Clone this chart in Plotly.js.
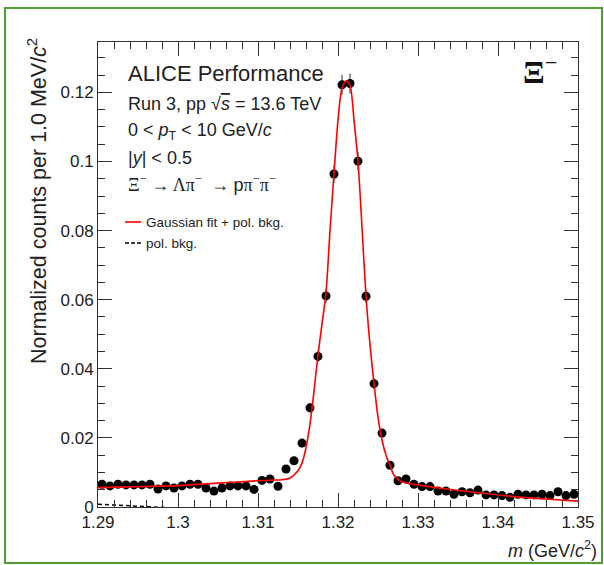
<!DOCTYPE html>
<html>
<head>
<meta charset="utf-8">
<script src="https://cdn.plot.ly/plotly-3.0.1.min.js"></script>
<style>
  html, body { margin: 0; padding: 0; background: #ffffff; }
  #chart { width: 604px; height: 565px; }
</style>
</head>
<body>
<div id="chart"></div>
<script>
// ---- data ----
const massBins = [
  1.2905, 1.2915, 1.2925, 1.2935, 1.2945, 1.2955, 1.2965, 1.2975, 1.2985, 1.2995,
  1.3005, 1.3015, 1.3025, 1.3035, 1.3045, 1.3055, 1.3065, 1.3075, 1.3085, 1.3095,
  1.3105, 1.3115, 1.3125, 1.3135, 1.3145, 1.3155, 1.3165, 1.3175, 1.3185, 1.3195,
  1.3205, 1.3215, 1.3225, 1.3235, 1.3245, 1.3255, 1.3265, 1.3275, 1.3285, 1.3295,
  1.3305, 1.3315, 1.3325, 1.3335, 1.3345, 1.3355, 1.3365, 1.3375, 1.3385, 1.3395,
  1.3405, 1.3415, 1.3425, 1.3435, 1.3445, 1.3455, 1.3465, 1.3475, 1.3485, 1.3495
];
const counts = [
  0.0066, 0.0061, 0.0066, 0.0064, 0.0064, 0.0064, 0.0066, 0.0052, 0.0061, 0.0055,
  0.0061, 0.0066, 0.0066, 0.0055, 0.0046, 0.0055, 0.0061, 0.0061, 0.0061, 0.0051,
  0.0077, 0.0081, 0.0060, 0.0110, 0.0134, 0.0185, 0.0287, 0.0436, 0.0611, 0.0964,
  0.1222, 0.1226, 0.1001, 0.0610, 0.0357, 0.0214, 0.0121, 0.0076, 0.0081, 0.0066,
  0.0059, 0.0059, 0.0046, 0.0046, 0.0037, 0.0044, 0.0041, 0.0049, 0.0035, 0.0035,
  0.0033, 0.0028, 0.0037, 0.0035, 0.0035, 0.0037, 0.0033, 0.0044, 0.0033, 0.0037
];
const countErr = [
  0.0007, 0.0007, 0.0007, 0.0007, 0.0007, 0.0007, 0.0007, 0.0007, 0.0007, 0.0007,
  0.0007, 0.0007, 0.0007, 0.0007, 0.0007, 0.0007, 0.0007, 0.0007, 0.0007, 0.0007,
  0.0008, 0.0008, 0.0007, 0.0009, 0.0010, 0.0012, 0.0014, 0.0017, 0.0020, 0.0026,
  0.0029, 0.0029, 0.0026, 0.0020, 0.0016, 0.0012, 0.0009, 0.0008, 0.0008, 0.0007,
  0.0007, 0.0007, 0.0006, 0.0006, 0.0006, 0.0006, 0.0006, 0.0006, 0.0006, 0.0006,
  0.0006, 0.0005, 0.0006, 0.0006, 0.0006, 0.0006, 0.0006, 0.0006, 0.0006, 0.0006
];
// fit curve (Gaussian fit + pol. bkg.)
const fitMass = [
  1.290, 1.295, 1.300, 1.305, 1.310, 1.312, 1.313, 1.314, 1.315, 1.3155,
  1.316, 1.3165, 1.317, 1.3175, 1.318, 1.3185, 1.319, 1.3195, 1.320, 1.3205,
  1.321, 1.3215, 1.322, 1.3225, 1.323, 1.3235, 1.324, 1.3245, 1.325, 1.3255,
  1.326, 1.3265, 1.327, 1.328, 1.330, 1.3335, 1.338, 1.342, 1.346, 1.350
];
const fitValues = [
  0.0056, 0.0059, 0.0062, 0.0069, 0.0076, 0.0078, 0.0079, 0.0084, 0.0105, 0.0127,
  0.0172, 0.0240, 0.0335, 0.0440, 0.0530, 0.0620, 0.0800, 0.0965, 0.1120, 0.1212,
  0.1234, 0.1220, 0.1120, 0.1000, 0.0810, 0.0610, 0.0470, 0.0357, 0.0260, 0.0194,
  0.0150, 0.0121, 0.0092, 0.0073, 0.0064, 0.0052, 0.0040, 0.0030, 0.0023, 0.0017
];
// polynomial background (only visible near the lower-left corner)
const bkgMass = [1.290, 1.2976, 1.305];
const bkgValues = [0.0008, 0.0000, -0.0009];

const xTickVals = [1.29, 1.30, 1.31, 1.32, 1.33, 1.34, 1.35];
const xTickText = ['1.29', '1.3', '1.31', '1.32', '1.33', '1.34', '1.35'];
const yTickVals = [0, 0.02, 0.04, 0.06, 0.08, 0.10, 0.12];
const yTickText = ['0', '0.02', '0.04', '0.06', '0.08', '0.1', '0.12'];

const FONT = 'Liberation Sans, Arial, Helvetica, sans-serif';
const SERIF = 'Liberation Serif, DejaVu Serif, Times New Roman, serif';
const TXT = '#222222';

const traces = [
  {
    x: massBins, y: counts, type: 'scatter', mode: 'markers',
    marker: { color: '#000000', size: 9 },
    error_y: { type: 'data', array: countErr, visible: true, color: '#333333', thickness: 1, width: 0 },
    showlegend: false, hoverinfo: 'x+y'
  },
  {
    x: bkgMass, y: bkgValues, type: 'scatter', mode: 'lines',
    line: { color: '#000000', width: 1.5, dash: '4px,3px' },
    showlegend: false
  },
  {
    x: fitMass, y: fitValues, type: 'scatter', mode: 'lines',
    line: { color: '#ff0000', width: 1.6, shape: 'spline', smoothing: 0.8 },
    showlegend: false
  }
];

// helpers to express pixel positions in paper coordinates of the plot area
const L = 98, T = 42, W = 480, H = 465;
const px = v => (v - L) / W;
const py = v => (T + H - v) / H;

const serif = s => '<span style="font-family:' + SERIF + '">' + s + '</span>';

const annotations = [
  { text: 'ALICE Performance', x: px(126), y: py(73), size: 22 },
  { text: 'Run 3, pp √<span style="text-decoration:overline"><i>s</i></span> = 13.6 TeV', x: px(126), y: py(104), size: 18 },
  { text: '0 &lt; <i>p</i><sub>T</sub> &lt; 10 GeV/<i>c</i>', x: px(126), y: py(131), size: 18 },
  { text: '|<i>y</i>| &lt; 0.5', x: px(126), y: py(158), size: 18 },
  { text: serif('Ξ<sup>−</sup> → Λπ<sup>−</sup>  → ') + 'p' + serif('π<sup>−</sup>π<sup>−</sup>'), x: px(126), y: py(183), size: 18 },
  { text: 'Gaussian fit + pol. bkg.', x: px(144), y: py(222), size: 13.5 },
  { text: 'pol. bkg.', x: px(144), y: py(243), size: 13.5 }
].map(a => ({
  text: a.text, x: a.x, y: a.y, xref: 'paper', yref: 'paper',
  xanchor: 'left', yanchor: 'middle', showarrow: false,
  font: { family: FONT, size: a.size, color: TXT }
}));

annotations.push({
  text: '<b>Ξ</b><sup>−</sup>', x: px(540), y: py(70), xref: 'paper', yref: 'paper',
  xanchor: 'center', yanchor: 'middle', showarrow: false,
  font: { family: SERIF, size: 32, color: '#111111' }
});
annotations.push({
  text: '<i>m</i> (GeV/<i>c</i><sup>2</sup>)', x: px(599), y: py(549), xref: 'paper', yref: 'paper',
  xanchor: 'right', yanchor: 'middle', showarrow: false,
  font: { family: FONT, size: 18, color: TXT }
});
annotations.push({
  text: 'Normalized counts per 1.0 MeV/<i>c</i><sup>2</sup>', x: px(37), y: py(36), xref: 'paper', yref: 'paper',
  xanchor: 'center', yanchor: 'top', showarrow: false, textangle: -90,
  font: { family: FONT, size: 21.5, color: TXT }
});

const shapes = [
  // legend samples
  { type: 'line', xref: 'paper', yref: 'paper', x0: px(125), x1: px(141), y0: py(222), y1: py(222),
    line: { color: '#ff0000', width: 1.6 } },
  { type: 'line', xref: 'paper', yref: 'paper', x0: px(125), x1: px(141), y0: py(243), y1: py(243),
    line: { color: '#000000', width: 1.5, dash: '4px,2px' } },
  // green frame around the figure
  { type: 'rect', xref: 'paper', yref: 'paper', x0: px(5), x1: px(602), y0: py(8), y1: py(563),
    line: { color: '#4f9e36', width: 2 }, layer: 'below' }
];

const axisCommon = {
  showline: true, linecolor: '#333333', linewidth: 1, mirror: 'ticks',
  ticks: 'inside', ticklen: 14, tickcolor: '#333333', tickwidth: 1,
  showgrid: false, zeroline: false,
  tickfont: { family: FONT, size: 17, color: TXT }
};

const layout = {
  width: 604, height: 565,
  margin: { l: L, r: 604 - L - W, t: T, b: 565 - T - H, pad: 0 },
  paper_bgcolor: '#ffffff', plot_bgcolor: '#ffffff',
  showlegend: false,
  xaxis: Object.assign({}, axisCommon, {
    range: [1.29, 1.35], tickmode: 'array', tickvals: xTickVals, ticktext: xTickText,
    minor: { tickmode: 'linear', tick0: 1.29, dtick: 0.002, ticks: 'inside', ticklen: 7, tickcolor: '#333333', showgrid: false }
  }),
  yaxis: Object.assign({}, axisCommon, {
    range: [0, 0.1346], tickmode: 'array', tickvals: yTickVals, ticktext: yTickText,
    minor: { tickmode: 'linear', tick0: 0, dtick: 0.005, ticks: 'inside', ticklen: 7, tickcolor: '#333333', showgrid: false }
  }),
  annotations: annotations,
  shapes: shapes
};

Plotly.newPlot('chart', traces, layout, { displayModeBar: false, staticPlot: true });
</script>
</body>
</html>
